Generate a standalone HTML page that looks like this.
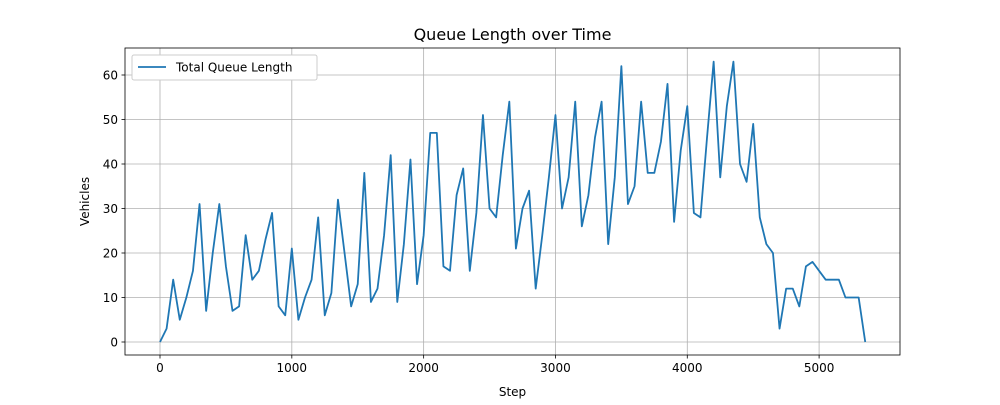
<!DOCTYPE html>
<html><head><meta charset="utf-8"><style>
body{margin:0;background:#fff;font-family:"Liberation Sans","DejaVu Sans",sans-serif;}
svg text{font-family:"DejaVu Sans","Liberation Sans",sans-serif;font-size:12px;fill:#000;}
</style></head><body>
<svg id="chart" width="1000" height="400" viewBox="0 0 1000 400" xmlns="http://www.w3.org/2000/svg">
<rect width="1000" height="400" fill="#fff"/>
<text x="512.5" y="40" text-anchor="middle" style="font-size:16px">Queue Length over Time</text>
<g id="grid"></g>
<g id="ticks"></g>
<polyline id="line" fill="none" stroke="#1f77b4" stroke-width="1.8" stroke-linejoin="round"/>
<rect x="125" y="48" width="775" height="307" fill="none" stroke="#000" stroke-width="0.8"/>
<text x="512.5" y="396" text-anchor="middle">Step</text>
<text transform="translate(89,201.5) rotate(-90)" text-anchor="middle">Vehicles</text>
<g>
<rect x="132" y="55" width="185" height="25" fill="#fff" stroke="#ccc" rx="2"/>
<line x1="138" y1="67" x2="166" y2="67" stroke="#1f77b4" stroke-width="1.8"/>
<text x="176" y="71.5">Total Queue Length</text>
</g>
</svg>
<script>
const values = [0,3,14,5,10,16,31,7,20,31,17,7,8,24,14,16,23,29,8,6,21,5,10,14,28,6,11,32,20,8,13,38,9,12,24,42,9,22,41,13,24,47,47,17,16,33,39,16,29,51,30,28,42,54,21,30,34,12,24,37,51,30,37,54,26,33,46,54,22,37,62,31,35,54,38,38,45,58,27,43,53,29,28,46,63,37,53,63,40,36,49,28,22,20,3,12,12,8,17,18,16,14,14,14,10,10,10,0];
const stepSize = 50;
const xTicks = [0,1000,2000,3000,4000,5000];
const yTicks = [0,10,20,30,40,50,60];
const X = v => 160 + v * 0.13182;
const Y = v => 342 - v * 4.45;
const NS = "http://www.w3.org/2000/svg";
const grid = document.getElementById('grid'), ticks = document.getElementById('ticks');
function mk(tag, attrs, parent){const e=document.createElementNS(NS,tag);for(const k in attrs)e.setAttribute(k,attrs[k]);parent.appendChild(e);return e;}
xTicks.forEach(t=>{
  const g=mk('line',{x1:X(t),x2:X(t),y1:48,y2:355,stroke:'#b0b0b0','stroke-width':0.8},grid);
  
  
  mk('line',{x1:X(t),x2:X(t),y1:355,y2:358.5,stroke:'#000','stroke-width':0.8},ticks);
  const tx=mk('text',{x:X(t),y:372,'text-anchor':'middle'},ticks);tx.textContent=t;
  
  
});
yTicks.forEach(t=>{
  const g=mk('line',{x1:125,x2:900,y1:Y(t),y2:Y(t),stroke:'#b0b0b0','stroke-width':0.8},grid);
  
  
  mk('line',{x1:121.5,x2:125,y1:Y(t),y2:Y(t),stroke:'#000','stroke-width':0.8},ticks);
  const tx=mk('text',{x:118,y:Y(t)+4.5,'text-anchor':'end'},ticks);tx.textContent=t;
  
  
});
document.getElementById('line').setAttribute('points', values.map((v,i)=>X(i*stepSize).toFixed(2)+','+Y(v).toFixed(2)).join(' '));
</script>
</body></html>
